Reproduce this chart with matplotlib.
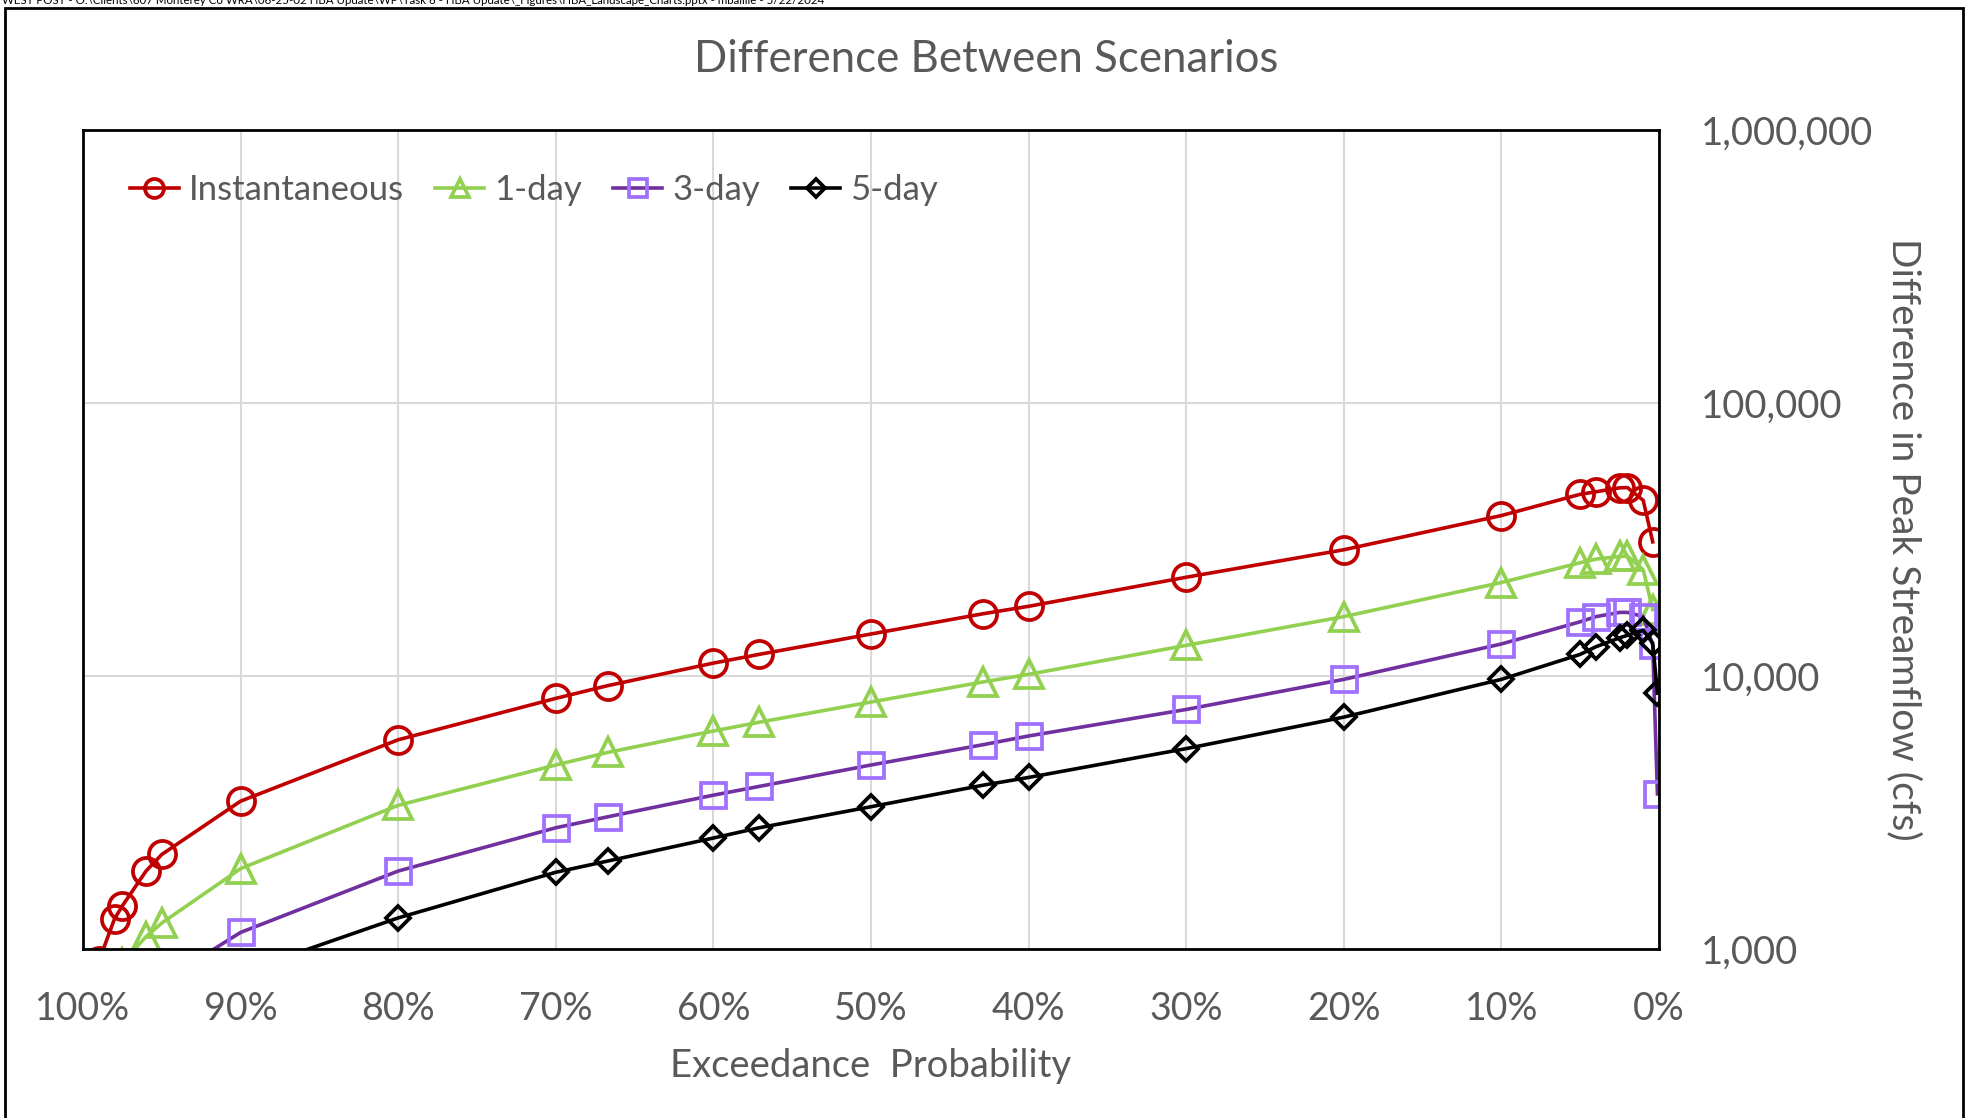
import matplotlib
matplotlib.use("Agg")
import matplotlib.pyplot as plt
from matplotlib.patches import Rectangle
from matplotlib.ticker import FixedLocator, NullLocator, FuncFormatter

plt.rcParams['font.family'] = ['Lato', 'DejaVu Sans']

# exceedance probability (%) and difference in peak streamflow (cfs)
x_inst = [99, 98, 97.5, 96, 95, 90, 80, 70, 66.7, 60, 57.1, 50, 42.9, 40, 30, 20, 10, 5, 4, 2.5, 2, 1, 0.4]
inst = [900, 1290, 1440, 1930, 2220, 3480, 5840, 8280, 9220, 11150, 12000, 14250, 16900, 18000,
        23000, 29000, 38700, 46300, 47300, 48900, 49000, 44000, 31000]

x_1day = [97.5, 96, 95, 90, 80, 70, 66.7, 60, 57.1, 50, 42.9, 40, 30, 20, 10, 5, 4, 2.5, 2, 1, 0.4]
day1 = [890, 1110, 1245, 1970, 3360, 4720, 5250, 6290, 6770, 8030, 9510, 10140, 12950, 16500,
        22000, 26000, 26800, 27400, 27500, 24500, 17500]

x_3day = [95, 90, 80, 70, 66.7, 60, 57.1, 50, 42.9, 40, 30, 20, 10, 5, 4, 2.5, 2, 1, 0.4, 0.1]
day3 = [760, 1150, 1930, 2780, 3050, 3660, 3940, 4720, 5600, 6030, 7540, 9720, 13100, 15800,
        16500, 17100, 17100, 16500, 13000, 3700]

x_5day = [90, 80, 70, 66.7, 60, 57.1, 50, 42.9, 40, 30, 20, 10, 5, 4, 2.5, 2, 1, 0.4, 0.1]
day5 = [820, 1300, 1910, 2100, 2550, 2780, 3320, 3980, 4250, 5420, 7070, 9720, 12000, 12800,
        13800, 14100, 14700, 13200, 8650]

xticks = [100, 90, 80, 70, 60, 50, 40, 30, 20, 10, 0]
yticks = [1000, 10000, 100000, 1000000]

gray = '#595959'

fig = plt.figure(figsize=(19.75, 11.18), dpi=100)
ax = fig.add_axes([83 / 1975, 1 - 949 / 1118, (1659 - 83) / 1975, (949 - 130) / 1118])

ax.plot(x_inst, inst, '-o', color='#C00000', lw=2.6, ms=19.5, mfc='none', mew=2.7, label='Instantaneous')
ax.plot(x_1day, day1, '-^', color='#92D050', lw=2.6, ms=19.5, mfc='none', mew=2.7, label='1-day')
ax.plot(x_3day, day3, '-s', color='#7030A0', lw=2.6, ms=18, mfc='none', mec='#A070FF', mew=2.7, label='3-day')
ax.plot(x_5day, day5, '-D', color='black', lw=2.6, ms=12.5, mfc='none', mew=2.7, label='5-day')

ax.set_yscale('log')
ax.set_xlim(100, 0)
ax.set_ylim(1000, 1000000)
ax.xaxis.set_major_locator(FixedLocator(xticks))
ax.xaxis.set_major_formatter(FuncFormatter(lambda v, p: '%d%%' % v))
ax.yaxis.set_major_locator(FixedLocator(yticks))
ax.yaxis.set_minor_locator(NullLocator())
ax.yaxis.set_major_formatter(FuncFormatter(lambda v, p: '{:,.0f}'.format(v)))
ax.yaxis.tick_right()
ax.tick_params(axis='x', length=0, pad=30, labelsize=27, labelcolor=gray)
ax.tick_params(axis='y', length=0, pad=30, labelsize=27.5, labelcolor=gray)
ax.grid(True, color='#D9D9D9', lw=1.5)
ax.set_axisbelow(True)
for s in ax.spines.values():
    s.set_linewidth(2)
    s.set_color('black')

ax.set_xlabel('Exceedance  Probability', fontsize=27.5, color=gray)
ax.xaxis.set_label_coords(0.5, -0.143)
ax.xaxis.label.set_va('center')
ax.yaxis.set_label_position('right')
ax.set_ylabel('Difference in Peak Streamflow (cfs)', fontsize=28, color=gray,
              rotation=-90, va='center', ha='center')
ax.yaxis.set_label_coords(1.155, 0.5)

ax.legend(loc='center left', bbox_to_anchor=(0.0298, 0.9267), ncol=4, frameon=False,
          fontsize=25, labelcolor=gray, borderaxespad=0, borderpad=0,
          handlelength=1.4, handletextpad=0.3, columnspacing=0.9, markerscale=0.7)

fig.text(0.4995, 1 - 59 / 1118, 'Difference Between Scenarios', fontsize=31.5, color=gray,
         ha='center', va='center')

fig.text(0.001, 1.0, 'WEST POST - O:\\Clients\\607 Monterey Co WRA\\06-25-02 HBA Update\\WP\\Task 6 - HBA Update'
         '\\_Figures\\HBA_Landscape_Charts.pptx - mbaillie - 5/22/2024',
         fontsize=8.3, color='black', ha='left', va='center')

fig.patches.append(Rectangle((5 / 1975, -0.02), (1963 - 5) / 1975, 1 - 8 / 1118 + 0.02,
                             transform=fig.transFigure, fill=False, lw=2, ec='black'))

fig.savefig('out.png', dpi=100)
